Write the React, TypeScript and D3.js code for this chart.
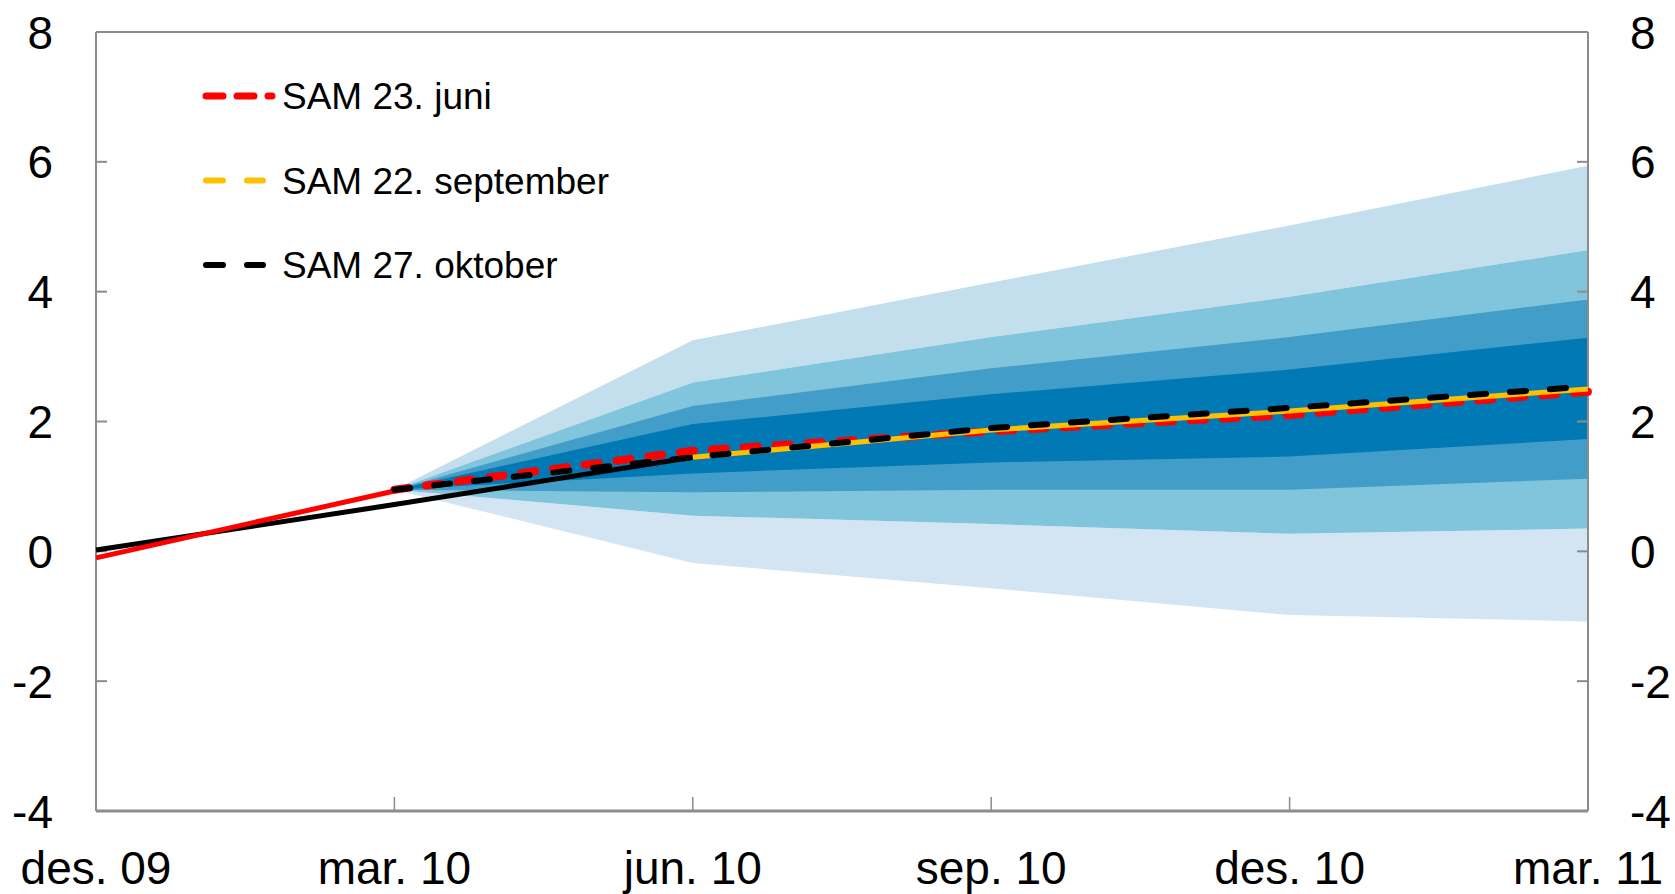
import React from 'react';
import * as d3 from 'd3';

// quarters on the x axis
const quarters = ['des. 09', 'mar. 10', 'jun. 10', 'sep. 10', 'des. 10', 'mar. 11'];
const yTicks = [-4, -2, 0, 2, 4, 6, 8];

// fan chart bands (null where the fan does not exist)
const outerHi = [null, 0.95, 3.25, 4.14, 5.02, 5.94];
const band2Hi = [null, 0.95, 2.6, 3.3, 3.92, 4.64];
const band3Hi = [null, 0.95, 2.24, 2.82, 3.3, 3.88];
const band4Hi = [null, 0.95, 1.96, 2.42, 2.8, 3.29];
const band4Lo = [null, 0.95, 1.2, 1.37, 1.46, 1.73];
const band3Lo = [null, 0.95, 0.91, 0.95, 0.95, 1.12];
const band2Lo = [null, 0.95, 0.55, 0.42, 0.27, 0.35];
const outerLo = [null, 0.95, -0.18, -0.57, -0.98, -1.08];

// lines
const redHist = [-0.1, 0.93, null, null, null, null];
const redFcst = [null, 0.95, 1.55, 1.85, 2.1, 2.46];
const blackHist = [0.02, 0.72, 1.45, null, null, null];
const blackFcst = [null, 0.95, 1.45, 1.9, 2.21, 2.54];
const yellowFcst = [null, null, 1.45, 1.87, 2.16, 2.5];

const legendItems = [
  { label: 'SAM 23. juni', color: '#ff0000', dash: '17 14', width: 7 },
  { label: 'SAM 22. september', color: '#ffc000', dash: '17 24', width: 6 },
  { label: 'SAM 27. oktober', color: '#000000', dash: '17 24', width: 6 },
];

const W = 1675;
const H = 894;
const left = 96;
const right = 1588;
const top = 32;
const bottom = 811;
const axisColor = '#8c8c8c';
const font = '"Liberation Sans", Arial, sans-serif';

export default function App() {
  const x = d3.scaleLinear().domain([0, quarters.length - 1]).range([left, right]);
  const y = d3.scaleLinear().domain([-4, 8]).range([bottom, top]);

  const band = (lo: (number | null)[], hi: (number | null)[]) =>
    d3.area<number>()
      .defined(i => lo[i] != null && hi[i] != null)
      .x(i => x(i))
      .y0(i => y(lo[i] as number))
      .y1(i => y(hi[i] as number))(d3.range(quarters.length)) || '';

  const line = (vals: (number | null)[]) =>
    d3.line<number>()
      .defined(i => vals[i] != null)
      .x(i => x(i))
      .y(i => y(vals[i] as number))(d3.range(quarters.length)) || '';

  return (
    <svg width={W} height={H} style={{ position: 'absolute', left: 0, top: 0, background: '#fff' }}>
      {/* fan */}
      <path d={band(band2Hi, outerHi)} fill="#c3dfee" />
      <path d={band(outerLo, band2Lo)} fill="#d3e5f2" />
      <path d={band(band2Lo, band2Hi)} fill="#80c5db" />
      <path d={band(band3Lo, band3Hi)} fill="#429dc8" />
      <path d={band(band4Lo, band4Hi)} fill="#0079b5" />

      {/* frame */}
      <line x1={left} x2={right} y1={top} y2={top} stroke={axisColor} strokeWidth={2} />
      <line x1={left} x2={left} y1={top} y2={bottom} stroke={axisColor} strokeWidth={2} />
      <line x1={right} x2={right} y1={top} y2={bottom} stroke={axisColor} strokeWidth={2} />
      <line x1={left} x2={right} y1={bottom} y2={bottom} stroke={axisColor} strokeWidth={3} />
      {yTicks.map(t => (
        <g key={t}>
          <line x1={left} x2={left + 11} y1={y(t)} y2={y(t)} stroke={axisColor} strokeWidth={2} />
          <line x1={right - 11} x2={right} y1={y(t)} y2={y(t)} stroke={axisColor} strokeWidth={2} />
          <text x={53} y={y(t)} dy="0.36em" textAnchor="end" fontFamily={font} fontSize={46}>{t}</text>
          <text x={1630} y={y(t)} dy="0.36em" textAnchor="start" fontFamily={font} fontSize={46}>{t}</text>
        </g>
      ))}
      {quarters.map((q, i) => (
        <g key={q + i}>
          <line x1={x(i)} x2={x(i)} y1={bottom} y2={bottom - 14} stroke={axisColor} strokeWidth={1.5} />
          <text x={x(i)} y={884} textAnchor="middle" fontFamily={font} fontSize={46}>{q}</text>
        </g>
      ))}

      {/* lines */}
      <path d={line(blackHist)} fill="none" stroke="#000" strokeWidth={5} />
      <path d={line(redHist)} fill="none" stroke="#ff0000" strokeWidth={5} />
      <path d={line(redFcst)} fill="none" stroke="#ff0000" strokeWidth={8} strokeDasharray="14 18" strokeLinecap="round" />
      <path d={line(yellowFcst)} fill="none" stroke="#ffc000" strokeWidth={5} />
      <path d={line(blackFcst)} fill="none" stroke="#000" strokeWidth={6} strokeDasharray="16 24" strokeLinecap="round" />

      {/* legend */}
      {legendItems.map((d, i) => {
        const ly = 96 + i * 84.5;
        return (
          <g key={d.label}>
            <line x1={206} x2={i === 0 ? 272 : 263} y1={ly} y2={ly} stroke={d.color} strokeWidth={d.width}
              strokeDasharray={d.dash} strokeLinecap="round" />
            <text x={282} y={ly} dy="0.36em" fontFamily={font} fontSize={37}>{d.label}</text>
          </g>
        );
      })}
    </svg>
  );
}
